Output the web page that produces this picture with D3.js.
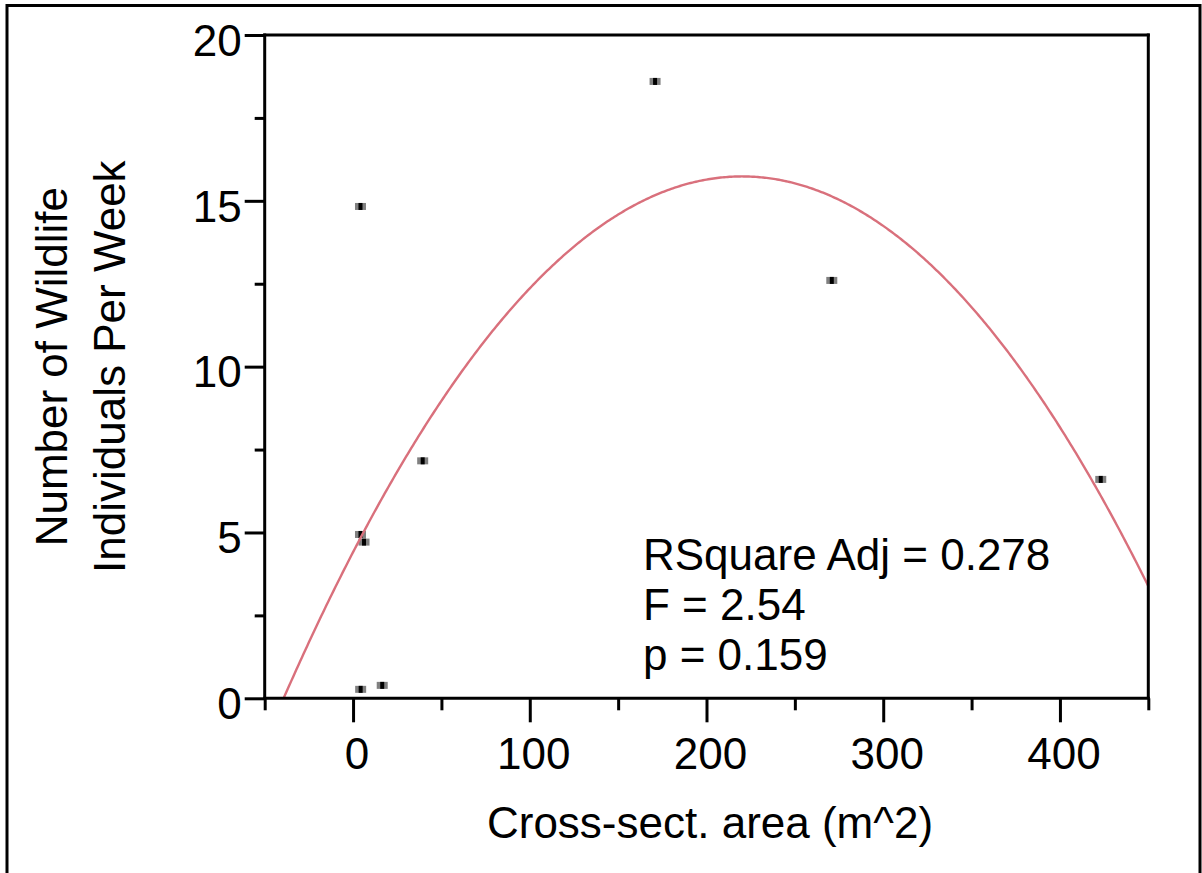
<!DOCTYPE html>
<html>
<head>
<meta charset="utf-8">
<script src="https://cdn.jsdelivr.net/npm/d3@7"></script>
<style>
  html, body { margin: 0; padding: 0; background: #fff; }
  svg { display: block; }
  text { font-family: "Liberation Sans", Arial, sans-serif; fill: #000; }
</style>
</head>
<body>
<svg id="chart" width="1202" height="873"></svg>
<script>
// Culvert cross-sectional area vs. wildlife passages per week
const areaM2   = [4.2, 4.2, 6.2, 4.3, 16.5, 39.4, 170.9, 270.9, 423.1];
const perWeek  = [14.83, 4.94, 4.71, 0.27, 0.39, 7.16, 18.6, 12.6, 6.6];

const xMajorTicks = [0, 100, 200, 300, 400];
const xMinorTicks = [-50, 50, 150, 250, 350, 450];
const yMajorTicks = [0, 5, 10, 15, 20];
const yMinorTicks = [2.5, 7.5, 12.5, 17.5];

const statLines = ["RSquare Adj = 0.278", "F = 2.54", "p = 0.159"];
const xTitle = "Cross-sect. area (m^2)";
const yTitleLines = ["Number of Wildlife", "Individuals Per Week"];

const svg = d3.select("#chart");
const plot = { left: 264.7, right: 1148.3, top: 35, bottom: 698.3 };

const x = d3.scaleLinear().domain([-50, 450]).range([plot.left, plot.right]);
const y = d3.scaleLinear().domain([0, 20]).range([plot.bottom, plot.top]);

// outer frame
svg.append("rect")
  .attr("x", 7).attr("y", 5.5).attr("width", 1193).attr("height", 900)
  .attr("fill", "none").attr("stroke", "#000").attr("stroke-width", 3);

// least-squares quadratic fit of the observations
function quadFit(xs, ys) {
  const n = xs.length;
  let s = [0, 0, 0, 0, 0], t = [0, 0, 0];
  for (let i = 0; i < n; i++) {
    let p = 1;
    for (let k = 0; k < 5; k++) { s[k] += p; if (k < 3) t[k] += p * ys[i]; p *= xs[i]; }
  }
  const A = [[s[0], s[1], s[2], t[0]], [s[1], s[2], s[3], t[1]], [s[2], s[3], s[4], t[2]]];
  for (let c = 0; c < 3; c++) {
    for (let r = c + 1; r < 3; r++) {
      const f = A[r][c] / A[c][c];
      for (let k = c; k < 4; k++) A[r][k] -= f * A[c][k];
    }
  }
  const b = [0, 0, 0];
  for (let r = 2; r >= 0; r--) {
    let v = A[r][3];
    for (let k = r + 1; k < 3; k++) v -= A[r][k] * b[k];
    b[r] = v / A[r][r];
  }
  return b; // b0 + b1 x + b2 x^2
}
const coef = quadFit(areaM2, perWeek);
const fitPts = d3.range(-50, 450.01, 1).map(v => [v, coef[0] + coef[1] * v + coef[2] * v * v]);

svg.append("defs").append("clipPath").attr("id", "plotClip")
  .append("rect")
  .attr("x", plot.left).attr("y", plot.top)
  .attr("width", plot.right - plot.left).attr("height", plot.bottom - plot.top);

// data points: small grey block with a dark core
const pts = svg.append("g").selectAll("g").data(areaM2.map((a, i) => [a, perWeek[i]]))
  .join("g")
  .attr("transform", d => `translate(${x(d[0])},${y(d[1])})`);
pts.append("rect").attr("x", -5.5).attr("y", -3.5).attr("width", 11).attr("height", 7).attr("fill", "#808080");
pts.append("rect").attr("x", -2).attr("y", -3.5).attr("width", 4).attr("height", 7).attr("fill", "#000");

// fitted curve
svg.append("path")
  .datum(fitPts)
  .attr("clip-path", "url(#plotClip)")
  .attr("fill", "none")
  .attr("stroke", "#d9707c")
  .attr("stroke-width", 2.4)
  .attr("d", d3.line().x(d => x(d[0])).y(d => y(d[1])));

// axes
const fontSize = 44;
function styleAxis(g) {
  g.selectAll(".tick line").attr("stroke", "#000").attr("stroke-width", 3);
  g.selectAll("path.domain").remove();
  g.selectAll("text").attr("font-size", fontSize).attr("fill", "#000")
    .style("font-family", '"Liberation Sans", Arial, sans-serif');
}

svg.append("g").attr("transform", `translate(${plot.left},0)`)
  .call(d3.axisLeft(y).tickValues(yMajorTicks).tickSize(20).tickPadding(3).tickFormat(d3.format("d")))
  .call(styleAxis)
  .call(g => g.selectAll("text").attr("dy", "0.46em"));
svg.append("g").attr("transform", `translate(${plot.left},0)`)
  .call(d3.axisLeft(y).tickValues(yMinorTicks).tickSize(10).tickFormat(""))
  .call(styleAxis);

svg.append("g").attr("transform", `translate(0,${plot.bottom})`)
  .call(d3.axisBottom(x).tickValues(xMajorTicks).tickSize(24).tickPadding(15.5).tickFormat(d3.format("d")))
  .call(styleAxis)
  .call(g => g.selectAll("text").attr("dx", 3.5));
svg.append("g").attr("transform", `translate(0,${plot.bottom})`)
  .call(d3.axisBottom(x).tickValues(xMinorTicks).tickSize(12).tickFormat(""))
  .call(styleAxis);

// plot frame
const frame = svg.append("g").attr("stroke", "#000").attr("stroke-width", 3).attr("fill", "none");
frame.append("line").attr("x1", plot.left - 1.5).attr("x2", plot.right + 1.5).attr("y1", plot.top).attr("y2", plot.top);
frame.append("line").attr("x1", plot.left - 1.5).attr("x2", plot.right + 1.5).attr("y1", plot.bottom).attr("y2", plot.bottom);
frame.append("line").attr("x1", plot.left).attr("x2", plot.left).attr("y1", plot.top - 1.5).attr("y2", plot.bottom);
frame.append("line").attr("x1", plot.right).attr("x2", plot.right).attr("y1", plot.top - 1.5).attr("y2", plot.bottom);

// statistics annotation
svg.append("g").selectAll("text").data(statLines).join("text")
  .attr("x", 643)
  .attr("y", (d, i) => 570 + i * 50)
  .attr("font-size", fontSize)
  .text(d => d);

// axis titles
svg.append("text")
  .attr("x", 710).attr("y", 838)
  .attr("text-anchor", "middle")
  .attr("font-size", fontSize)
  .text(xTitle);

svg.append("g").selectAll("text").data(yTitleLines).join("text")
  .attr("transform", (d, i) => `translate(${67 + i * 58},${(plot.top + plot.bottom) / 2}) rotate(-90)`)
  .attr("text-anchor", "middle")
  .attr("font-size", fontSize)
  .text(d => d);
</script>
</body>
</html>
